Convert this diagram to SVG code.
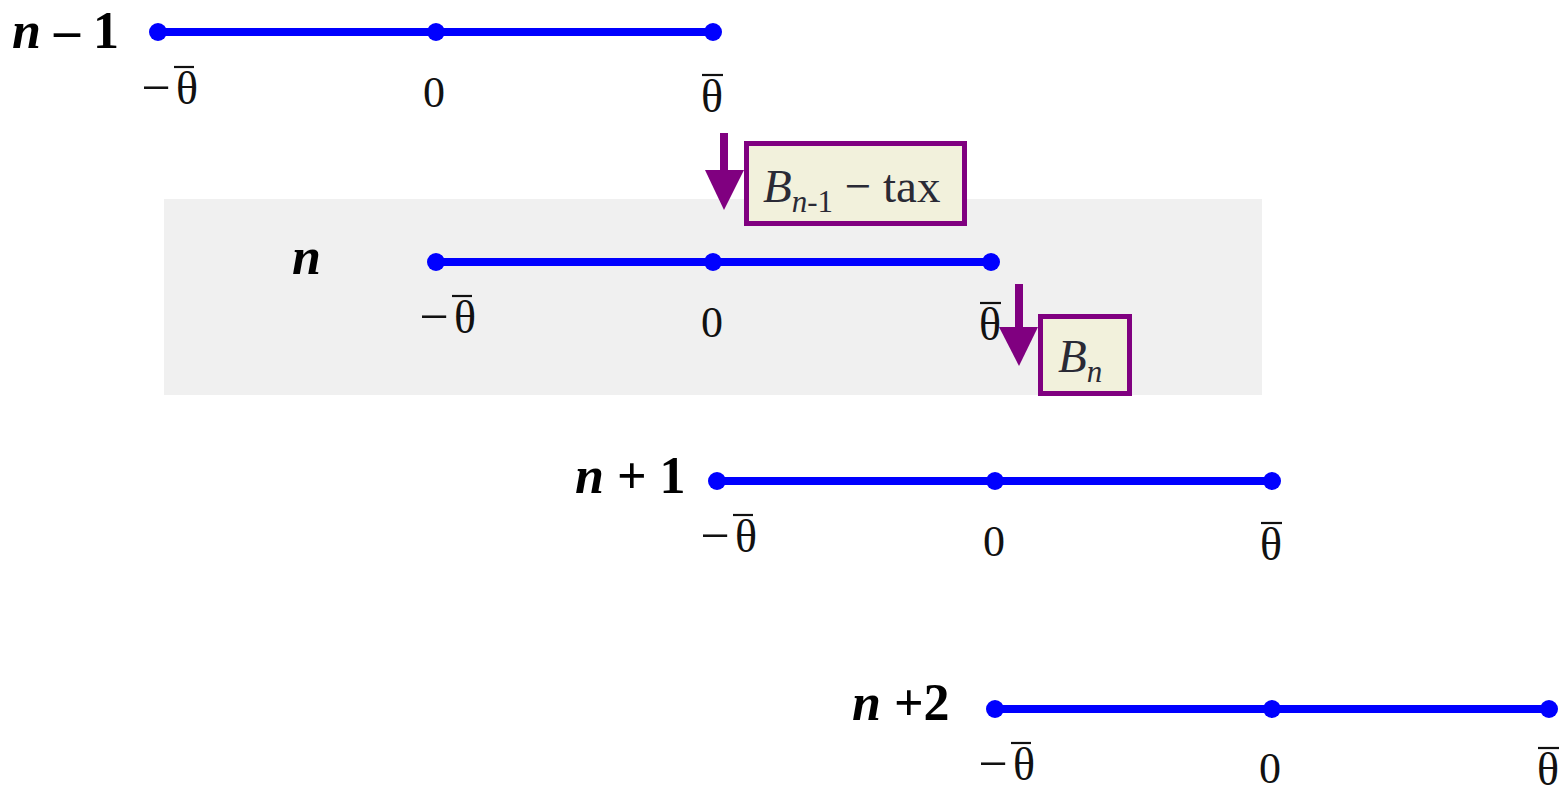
<svg xmlns="http://www.w3.org/2000/svg" width="1564" height="792" viewBox="0 0 1564 792">
<style>
.ln{stroke:#0000ff;stroke-width:8;fill:none}
.dt{fill:#0000ff}
.tk{font-family:"Liberation Serif",serif;font-size:44px;fill:#111;text-anchor:middle}
.th{font-family:"Liberation Serif",serif;font-size:46px;fill:#111;text-anchor:middle}
.mn{font-family:"Liberation Serif",serif;font-size:52px;fill:#111;text-anchor:middle}
.ov{stroke:#111;stroke-width:2.2}
.rl{font-family:"Liberation Serif",serif;font-size:52px;font-weight:bold;fill:#000}
.bx{fill:#f2f1dc;stroke:#800080;stroke-width:5}
.bt{font-family:"Liberation Serif",serif;font-size:47px;fill:#2a2a35}
.ar{fill:#800080}
</style>
<rect x="164" y="199" width="1098" height="196" fill="#f0f0f0"/>
<g id="row1" transform="translate(158,32)">
<line class="ln" x1="0" y1="0" x2="555" y2="0"/>
<circle class="dt" cx="0" cy="0" r="9"/><circle class="dt" cx="278" cy="0" r="9"/><circle class="dt" cx="555" cy="0" r="9"/>
<text class="mn" x="-2" y="73">−</text><text class="th" x="29" y="72">θ</text><line class="ov" x1="16" y1="35" x2="36" y2="35"/>
<text class="tk" x="276" y="75">0</text>
<text class="th" x="554" y="80">θ</text><line class="ov" x1="544" y1="43" x2="565" y2="43"/>
</g>
<text id="lab1" class="rl" x="12" y="48"><tspan font-style="italic">n</tspan> – 1</text>
<g id="row2" transform="translate(436,262)">
<line class="ln" x1="0" y1="0" x2="555" y2="0"/>
<circle class="dt" cx="0" cy="0" r="9"/><circle class="dt" cx="277" cy="0" r="9"/><circle class="dt" cx="555" cy="0" r="9"/>
<text class="mn" x="-2" y="72">−</text><text class="th" x="29" y="71">θ</text><line class="ov" x1="16" y1="34" x2="36" y2="34"/>
<text class="tk" x="276" y="75">0</text>
<text class="th" x="554" y="78">θ</text><line class="ov" x1="544" y1="41" x2="565" y2="41"/>
</g>
<text id="lab2" class="rl" x="292" y="274" font-style="italic">n</text>
<g id="row3" transform="translate(717,481)">
<line class="ln" x1="0" y1="0" x2="555" y2="0"/>
<circle class="dt" cx="0" cy="0" r="9"/><circle class="dt" cx="278" cy="0" r="9"/><circle class="dt" cx="555" cy="0" r="9"/>
<text class="mn" x="-2" y="72">−</text><text class="th" x="29" y="71">θ</text><line class="ov" x1="16" y1="34" x2="36" y2="34"/>
<text class="tk" x="277" y="75">0</text>
<text class="th" x="554" y="79">θ</text><line class="ov" x1="544" y1="42" x2="565" y2="42"/>
</g>
<text id="lab3" class="rl" x="575" y="493"><tspan font-style="italic">n</tspan> + 1</text>
<g id="row4" transform="translate(995,709)">
<line class="ln" x1="0" y1="0" x2="554" y2="0"/>
<circle class="dt" cx="0" cy="0" r="9"/><circle class="dt" cx="277" cy="0" r="9"/><circle class="dt" cx="554" cy="0" r="9"/>
<text class="mn" x="-2" y="72">−</text><text class="th" x="29" y="71">θ</text><line class="ov" x1="16" y1="34" x2="36" y2="34"/>
<text class="tk" x="275" y="74">0</text>
<text class="th" x="553" y="76">θ</text><line class="ov" x1="543" y1="39" x2="564" y2="39"/>
</g>
<text id="lab4" class="rl" x="852" y="720"><tspan font-style="italic">n</tspan> +2</text>
<g id="connectors">
<rect class="ar" x="720" y="133" width="8" height="40"/>
<polygon class="ar" points="705,170 744,170 724,210"/>
<rect class="ar" x="1015" y="284" width="8" height="45"/>
<polygon class="ar" points="999,327 1038,327 1019,366"/>
</g>
<g id="box1">
<rect class="bx" x="746.5" y="143.5" width="218" height="80"/>
<text class="bt" x="763" y="202"><tspan font-style="italic">B</tspan><tspan font-style="italic" font-size="31" dy="10">n</tspan><tspan font-size="31">-1</tspan><tspan dy="-10"> − tax</tspan></text>
</g>
<g id="box2">
<rect class="bx" x="1040.5" y="316.5" width="89" height="77"/>
<text class="bt" x="1058" y="372" font-style="italic">B<tspan font-size="31" dy="10">n</tspan></text>
</g>
</svg>
